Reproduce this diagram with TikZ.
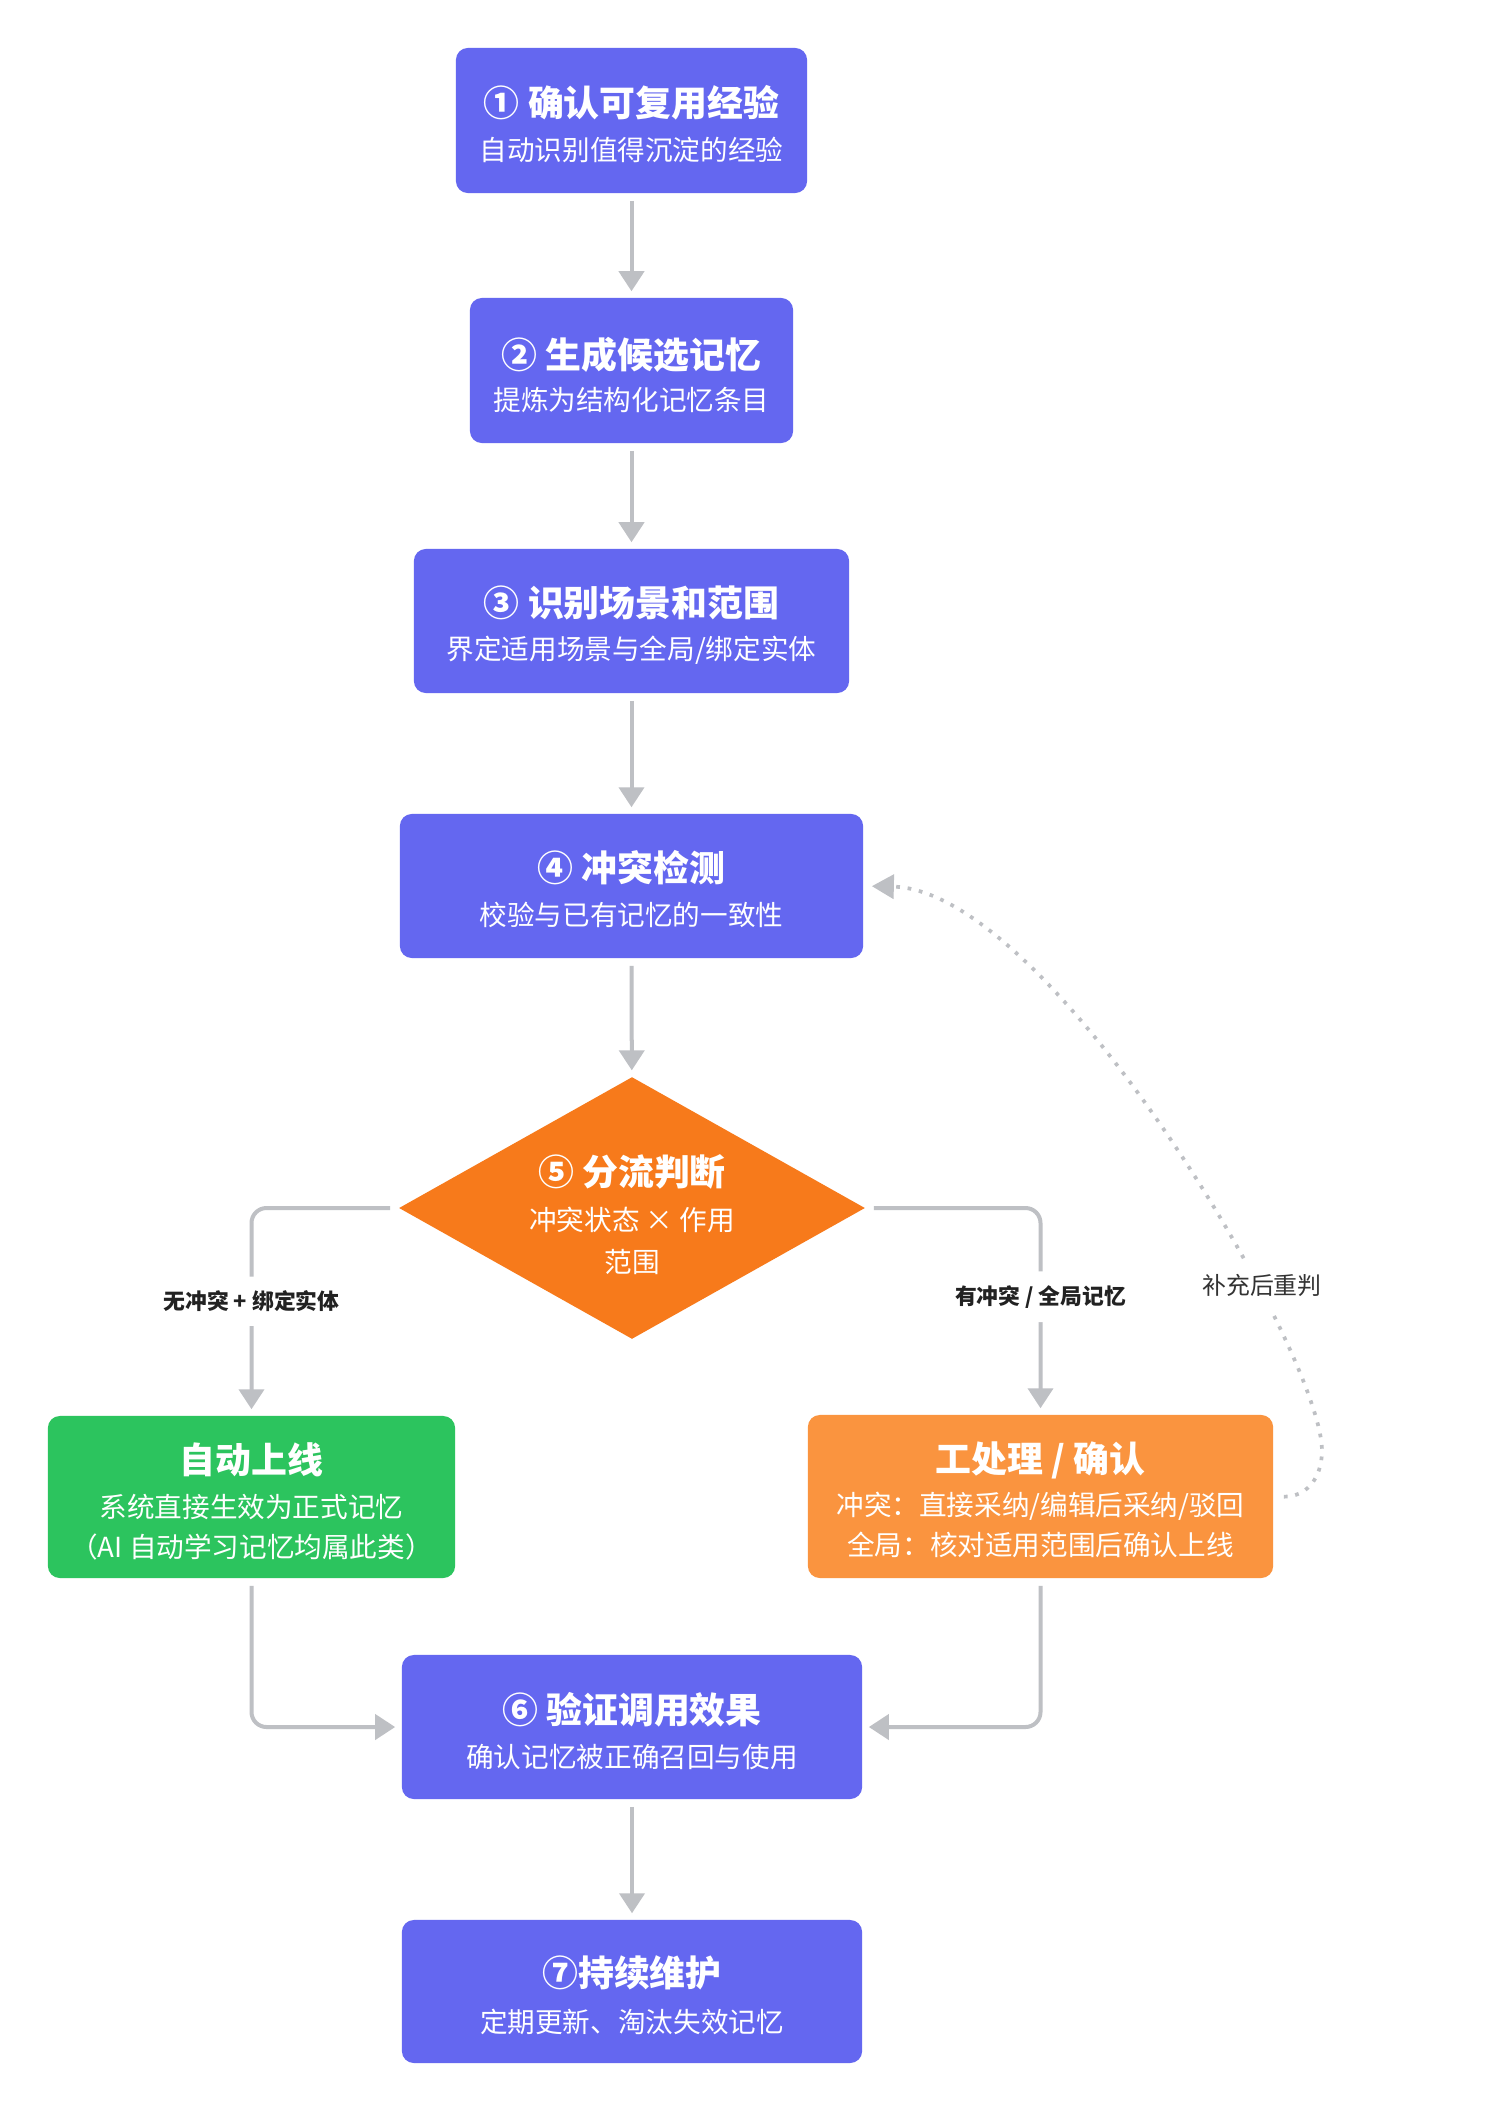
\documentclass[tikz,border=0pt]{standalone}
\usepackage{fontspec}
\setmainfont{Noto Sans CJK SC}
\usetikzlibrary{arrows.meta,shapes.geometric}
\definecolor{boxblue}{HTML}{6467F0}
\definecolor{dgreen}{HTML}{2CC45E}
\definecolor{dorange}{HTML}{F77A1B}
\definecolor{lorange}{HTML}{FA943F}
\definecolor{conn}{HTML}{BEC0C4}
\definecolor{lbl}{HTML}{222222}
\definecolor{lbltwo}{HTML}{333333}
\begin{document}
\begin{tikzpicture}[x=0.01cm,y=-0.01cm,
  stepbox/.style={rounded corners=0.12cm, inner sep=0pt, draw=none},
  ttl/.style={text=white, font=\fontsize{10.2pt}{12pt}\selectfont\bfseries, inner sep=0pt},
  sub/.style={text=white, font=\fontsize{7.85pt}{9pt}\selectfont, inner sep=0pt},
  arr/.style={draw=conn, line width=0.04cm, -{Triangle[length=0.2cm,width=0.25cm]}, shorten <=0.07cm, shorten >=0.06cm},
  brlbl/.style={fill=white, text=lbl, font=\fontsize{6.2pt}{7pt}\selectfont\bfseries, inner xsep=0.05cm, inner ysep=0.14cm},
  dotline/.style={draw=conn, line width=0.037cm, dash pattern=on 0.037cm off 0.078cm, -{Triangle[length=0.22cm,width=0.24cm]}, shorten <=0.1cm, shorten >=0.08cm},
]
\useasboundingbox (0,0) rectangle (1493,2112);
\fill[white] (0,0) rectangle (1493,2112);

% step 1
\node[stepbox, fill=boxblue, minimum width=3.51cm, minimum height=1.45cm] (b1) at (631.5,120.5) {};
\node[ttl] (b1t) at (631.5,103) {① 确认可复用经验};
\node[sub] (b1s) at (631.5,150) {自动识别值得沉淀的经验};
% step 2
\node[stepbox, fill=boxblue, minimum width=3.23cm, minimum height=1.45cm] (b2) at (631.5,370.5) {};
\node[ttl] (b2t) at (631.5,355) {② 生成候选记忆};
\node[sub] (b2s) at (631.5,400) {提炼为结构化记忆条目};
% step 3
\node[stepbox, fill=boxblue, minimum width=4.35cm, minimum height=1.44cm] (b3) at (631.5,621) {};
\node[ttl] (b3t) at (631.5,603) {③ 识别场景和范围};
\node[sub] (b3s) at (631.5,650) {界定适用场景与全局/绑定实体};
% step 4
\node[stepbox, fill=boxblue, minimum width=4.63cm, minimum height=1.44cm] (b4) at (631.5,886) {};
\node[ttl] (b4t) at (631.5,868) {④ 冲突检测};
\node[sub] (b4s) at (631.5,915) {校验与已有记忆的一致性};
% step 5 diamond
\node[diamond, fill=dorange, inner sep=0pt, minimum width=4.66cm, minimum height=2.62cm] (dia) at (632,1208) {};
\node[ttl] (diat) at (632,1172) {⑤ 分流判断};
\node[sub] (dias) at (632,1220) {冲突状态 × 作用};
\node[sub] (dias2) at (632,1262) {范围};
% green box
\node[stepbox, fill=dgreen, minimum width=4.07cm, minimum height=1.62cm] (gbox) at (251.5,1497) {};
\node[ttl] (gboxt) at (251.5,1460) {自动上线};
\node[sub] (gboxs) at (251.5,1507) {系统直接生效为正式记忆};
\node[sub] (gboxs2) at (251.5,1547) {（AI 自动学习记忆均属此类）};
% orange box
\node[stepbox, fill=lorange, minimum width=4.65cm, minimum height=1.63cm] (obox) at (1040.5,1496.5) {};
\node[ttl] (oboxt) at (1040.5,1460) {工处理 / 确认};
\node[sub] (oboxs) at (1040.5,1506) {冲突：直接采纳/编辑后采纳/驳回};
\node[sub] (oboxs2) at (1040.5,1545) {全局：核对适用范围后确认上线};
% step 6
\node[stepbox, fill=boxblue, minimum width=4.60cm, minimum height=1.44cm] (b6) at (632,1727) {};
\node[ttl] (b6t) at (632,1710) {⑥ 验证调用效果};
\node[sub] (b6s) at (632,1757) {确认记忆被正确召回与使用};
% step 7
\node[stepbox, fill=boxblue, minimum width=4.60cm, minimum height=1.43cm] (b7) at (632,1991.5) {};
\node[ttl] (b7t) at (632,1973) {⑦持续维护};
\node[sub] (b7s) at (632,2022) {定期更新、淘汰失效记忆};

% connectors
\draw[arr] (b1) -- (b2);
\draw[arr] (b2) -- (b3);
\draw[arr] (b3) -- (b4);
\draw[arr] (b4) -- (dia);
\draw[arr] (b6) -- (b7);
\draw[arr, rounded corners=0.15cm, shorten <=0.08cm] (dia.west) -| node[brlbl, pos=0.725] (l1) {无冲突 + 绑定实体} (gbox.north);
\draw[arr, rounded corners=0.15cm, shorten <=0.08cm] (dia.east) -| node[brlbl, pos=0.715] (l2) {有冲突 / 全局记忆} (obox.north);
\draw[arr, rounded corners=0.15cm] (gbox.south) |- (b6.west);
\draw[arr, rounded corners=0.15cm] (obox.south) |- (b6.east);

% dotted feedback
\draw[dotline] (obox.east) .. controls (1305,1497) and (1322,1480) .. (1322,1450)
  .. controls (1320,1350) and (1050,890) .. (b4.east);
\node[fill=white, text=lbltwo, font=\fontsize{6.8pt}{8pt}\selectfont, inner xsep=0.04cm, inner ysep=0.14cm] (rej) at (1262,1285) {补充后重判};
\end{tikzpicture}
\end{document}
